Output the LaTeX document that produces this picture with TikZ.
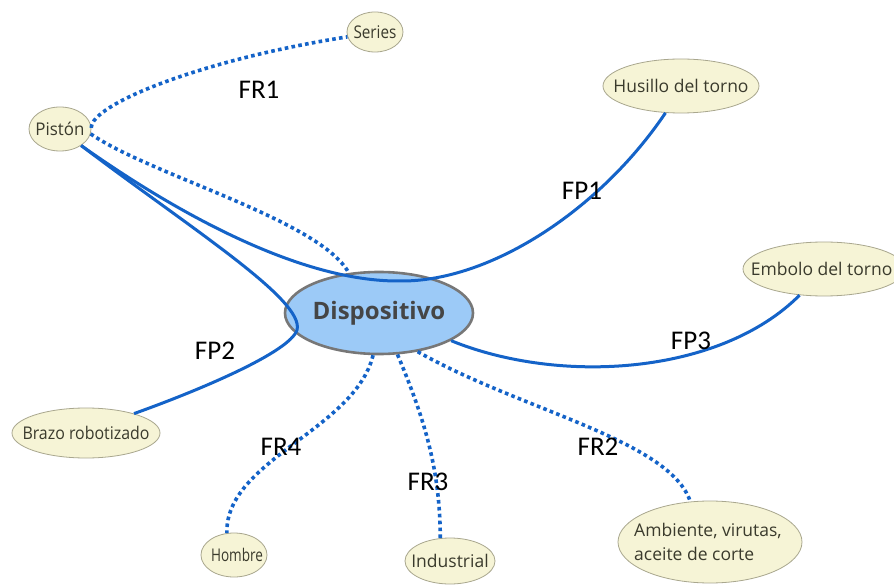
\documentclass[tikz,border=0pt]{standalone}
\usepackage{graphicx}
\usepackage{fontspec}
\setmainfont{Carlito}
\newfontfamily\leaffont{Open Sans}
\usetikzlibrary{shapes.geometric}
\definecolor{linkblue}{HTML}{1463C8}
\definecolor{leaffill}{HTML}{F6F4D6}
\definecolor{leafdraw}{HTML}{A9A78E}
\definecolor{leafink}{HTML}{3A3A2C}
\definecolor{hubfill}{HTML}{9CCAF7}
\definecolor{hubdraw}{HTML}{777777}
\definecolor{hubink}{HTML}{454545}
% caption squeezed to a given width, keeping its height
\newcommand{\squeezeto}[2]{\resizebox{#1}{\height}{#2}}
\tikzset{
  leaf/.style={ellipse, draw=leafdraw, line width=0.8pt, fill=leaffill, inner sep=0pt},
  leaftext/.style={inner sep=0pt, text=leafink, font=\leaffont\fontsize{17.5}{24}\selectfont},
  hub/.style={ellipse, draw=hubdraw, line width=2.6pt, fill=hubfill, inner sep=0pt},
  hubtext/.style={inner sep=0pt, text=hubink, font=\leaffont\fontsize{24}{28}\selectfont\bfseries},
  solidlink/.style={draw=linkblue, line width=3pt},
  dotlink/.style={draw=linkblue, line width=3.6pt, dash pattern=on 3.6pt off 3.3pt},
  tag/.style={font=\fontsize{27}{30}\selectfont, text=black, inner sep=0pt}
}
\begin{document}
\begin{tikzpicture}[x=1pt, y=-1pt]
  \useasboundingbox (0,0) rectangle (894,585);
  \clip (0,0) rectangle (894,585);
  \fill[white] (0,0) rectangle (894,585);

  % central concept and surrounding leaf ellipses
  \node[hub, minimum width=188pt, minimum height=82pt] (disp) at (379,313) {};
  \node[leaf, minimum width=56pt, minimum height=40pt] (series) at (375,32) {};
  \node[leaf, minimum width=62pt, minimum height=44pt] (piston) at (60,129) {};
  \node[leaf, minimum width=156pt, minimum height=54pt] (husillo) at (681,86) {};
  \node[leaf, minimum width=162pt, minimum height=54pt] (embolo) at (824,269) {};
  \node[leaf, minimum width=148pt, minimum height=50pt] (brazo) at (86,433) {};
  \node[leaf, minimum width=66pt, minimum height=44pt] (hombre) at (234,555) {};
  \node[leaf, minimum width=90pt, minimum height=46pt] (industrial) at (450,561) {};
  \node[leaf, minimum width=184pt, minimum height=82pt] (ambiente) at (710,542) {};

  % leaf captions
  \node[leaftext] (seriestxt) at (series.center) {\squeezeto{43pt}{Series}};
  \node[leaftext] (pistontxt) at (piston.center) {\squeezeto{49pt}{Pistón}};
  \node[leaftext] (husillotxt) at (husillo.center) {Husillo del torno};
  \node[leaftext, anchor=west] (embolotxt) at ([xshift=8pt]embolo.west) {Embolo del torno};
  \node[leaftext] (brazotxt) at (brazo.center) {\squeezeto{127pt}{Brazo robotizado}};
  \node[leaftext] (hombretxt) at ([xshift=3pt]hombre.center) {\squeezeto{52pt}{Hombre}};
  \node[leaftext] (industrialtxt) at (industrial.center) {Industrial};
  \node[leaftext, align=left] (ambientetxt) at ([xshift=-2pt]ambiente.center) {Ambiente, virutas,\\aceite de corte};

  % solid links
  \draw[solidlink] (piston.-38) .. controls (175,212) and (300,282) .. (400,281)
    .. controls (490,282) and (600,210) .. (husillo.240);
  \draw[solidlink] (piston.-38) .. controls (190,228) and (305,300) .. (297,330)
    .. controls (290,352) and (200,390) .. (brazo.22);
  \draw[solidlink] (disp.-21) .. controls (560,385) and (720,375) .. (embolo.227);

  % dotted links
  \draw[dotlink] (piston.2) .. controls (90,105) and (200,60) .. (series.190);
  \draw[dotlink] (piston.-9) .. controls (150,175) and (320,220) .. (disp.127);
  \draw[dotlink] (disp.262) .. controls (355,430) and (225,460) .. (hombre.108);
  \draw[dotlink] (disp.-66) .. controls (425,420) and (440,470) .. (industrial.113);
  \draw[dotlink] (disp.-45) .. controls (520,410) and (670,440) .. (ambiente.116);

  % hub caption, above the links crossing the rim
  \node[hubtext] (disptxt) at (disp.center) {Dispositivo};

  % link labels
  \node[tag] (fr1) at (259,90) {FR1};
  \node[tag] (fp1) at (582,191) {FP1};
  \node[tag] (fp2) at (215,351) {FP2};
  \node[tag] (fp3) at (691,341) {FP3};
  \node[tag] (fr4) at (281,447) {FR4};
  \node[tag] (fr3) at (428,482) {FR3};
  \node[tag] (fr2) at (598,447) {FR2};
\end{tikzpicture}
\end{document}
